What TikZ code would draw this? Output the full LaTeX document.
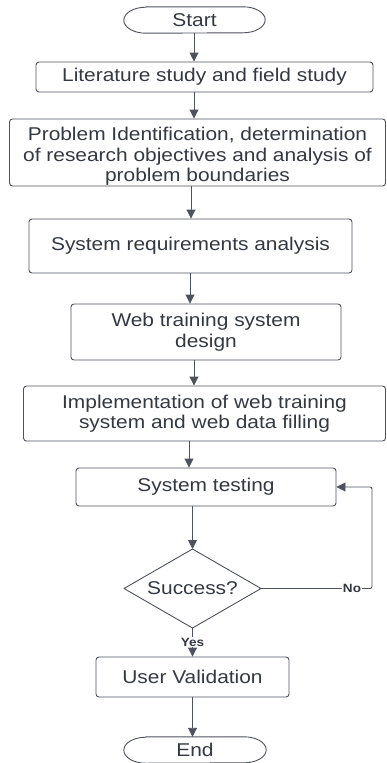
\documentclass[tikz,border=0pt]{standalone}
\usepackage{fontspec}
\setmainfont{Liberation Sans}[FakeStretch=1.13]
\usetikzlibrary{arrows.meta,calc}
\definecolor{ink}{RGB}{52,56,64}
\definecolor{edge}{RGB}{78,82,90}
\begin{document}
\begin{tikzpicture}[x=1pt,y=-1pt,
  every node/.style={text=ink,font=\fontsize{18.5}{20.5}\selectfont},
  box/.style={draw=edge,line width=0.9pt,rounded corners=3pt,align=center,inner sep=0pt},
  term/.style={inner sep=0pt},
  dia/.style={inner sep=0pt},
  arr/.style={draw=edge,line width=0.9pt,-{Triangle[length=9pt,width=9pt]}},
  lbl/.style={fill=white,inner sep=1pt,font=\fontsize{12}{14}\selectfont\bfseries}]
\useasboundingbox (0,0) rectangle (387,763);
% terminals
\node[term,minimum width=141pt,minimum height=26pt] (start) at (194.5,20) {Start};
\draw[edge,line width=0.9pt] ([xshift=22pt]start.north west) -- ([xshift=-22pt]start.north east)
  arc[start angle=90,end angle=-90,x radius=22pt,y radius=13pt]
  -- ([xshift=22pt]start.south west)
  arc[start angle=270,end angle=90,x radius=22pt,y radius=13pt] -- cycle;
\node[term,minimum width=142pt,minimum height=26pt] (end) at (195,750) {End};
\draw[edge,line width=0.9pt] ([xshift=22pt]end.north west) -- ([xshift=-22pt]end.north east)
  arc[start angle=90,end angle=-90,x radius=22pt,y radius=13pt]
  -- ([xshift=22pt]end.south west)
  arc[start angle=270,end angle=90,x radius=22pt,y radius=13pt] -- cycle;
% boxes
\node[box,minimum width=337pt,minimum height=30pt] (lit) at (204.5,77) {Literature study and field study};
\node[box,minimum width=376pt,minimum height=67pt] (prob) at (197.5,152.5)
  {\rule{0pt}{21pt}Problem Identification, determination\\ of research objectives and analysis of\\ problem boundaries};
\node[box,minimum width=323pt,minimum height=54pt] (req) at (190.5,246) {System requirements analysis};
\node[box,minimum width=270pt,minimum height=56pt] (web) at (206,332) {Web training system\\ design};
\node[box,minimum width=362pt,minimum height=55pt] (impl) at (204.5,413.5)
  {Implementation of web training\\ system and web data filling};
\node[box,minimum width=260pt,minimum height=38pt] (st) at (206,487) {System testing};
\node[dia] (dia) at (192.5,588.5) {Success?};
\draw[edge,line width=0.9pt,line join=round] (124,588.5) coordinate (dW) -- (192.5,549) coordinate (dN)
  -- (261,588.5) coordinate (dE) -- (192.5,628) coordinate (dS) -- cycle;
\node[box,minimum width=193pt,minimum height=40pt] (uv) at (192.5,677) {User Validation};
% columns for vertical connectors
\coordinate (ax1) at (194,0);
\coordinate (ax2) at (191,0);
\coordinate (ax3) at (190,0);
\coordinate (ax4) at (194,0);
\coordinate (ax5) at (189,0);
\coordinate (ax6) at (192.5,0);
\coordinate (fb) at (372,0);
\draw[arr] (start.south -| ax1) -- (lit.north -| ax1);
\draw[arr] (lit.south -| ax1) -- (prob.north -| ax1);
\draw[arr] (prob.south -| ax2) -- (req.north -| ax2);
\draw[arr] (req.south -| ax3) -- (web.north -| ax3);
\draw[arr] (web.south -| ax4) -- (impl.north -| ax4);
\draw[arr] (impl.south -| ax5) -- (st.north -| ax5);
\draw[arr] (st.south -| ax6) -- (dN);
\draw[arr] (dS) -- node[lbl,pos=0.5] {Yes} (uv.north -| ax6);
\draw[arr] (uv.south -| ax6) -- (end.north -| ax6);
\draw[arr,rounded corners=2pt] (dE) -- node[lbl,pos=0.82] {No} (dE -| fb) |- (st.east);
\end{tikzpicture}
\end{document}
